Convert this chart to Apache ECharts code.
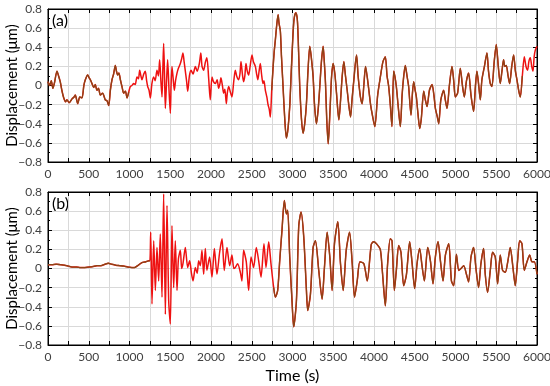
<!DOCTYPE html>
<html><head><meta charset="utf-8">
<script src="https://cdn.jsdelivr.net/npm/echarts@6/dist/echarts.min.js"></script>
<style>html,body{margin:0;padding:0;background:#fff}#c{width:550px;height:386px}</style>
</head><body><div id="c"></div>
<script>
// Panel (a)
var timesA = [0,20,40,60,80,110,130,150,170,190,215,233,260,295,320,335,365,390,417,440,458,487,505,520,540,560,580,600,620,642,670,703,725,745,765,785,805,826,840,855,870,888,910,928,950,970,990,1010,1030,1051,1070,1092,1110,1125,1140,1153,1175,1194,1210,1223,1240,1256,1275,1297,1315,1337,1355,1370,1385,1399,1410,1419,1430,1440,1455,1468,1485,1501,1510,1521,1535,1550,1565,1583,1600,1624,1640,1656,1670,1685,1700,1714,1735,1755,1780,1808,1830,1857,1875,1890,1910,1930,1950,1971,1991,2012,2030,2053,2075,2094,2110,2122,2140,2155,2170,2188,2200,2217,2235,2257,2280,2298,2315,2339,2355,2368,2385,2400,2415,2429,2445,2462,2480,2503,2520,2544,2560,2575,2590,2605,2620,2638,2650,2667,2685,2700,2715,2728,2745,2761,2775,2790,2805,2823,2835,2851,2865,2884,2905,2925,2945,2966,2985,3007,3020,3040,3055,3064,3075,3089,3110,3130,3150,3171,3190,3212,3230,3253,3270,3294,3315,3335,3355,3376,3390,3405,3420,3438,3450,3466,3480,3499,3520,3540,3555,3569,3590,3610,3630,3650,3671,3690,3712,3730,3753,3770,3786,3805,3827,3840,3855,3875,3896,3915,3937,3958,3978,4010,4045,4080,4110,4139,4160,4180,4200,4220,4241,4255,4274,4295,4323,4345,4365,4384,4405,4425,4454,4470,4487,4505,4520,4540,4561,4580,4610,4630,4651,4680,4712,4735,4753,4775,4794,4820,4855,4875,4896,4925,4957,4978,4998,5026,5059,5085,5108,5135,5161,5190,5222,5245,5263,5285,5304,5324,5355,5386,5405,5427,5447,5475,5500,5525,5549,5570,5590,5605,5623,5645,5664,5690,5713,5735,5754,5775,5795,5820,5844,5865,5885,5900,5918,5935,5951,5965,5979,6000];
var valuesA = [0.04,0.0,0.05,-0.03,0.03,0.15,0.1,0.04,-0.05,-0.12,-0.17,-0.15,-0.18,-0.14,-0.12,-0.10,-0.19,-0.12,-0.13,0.0,0.06,0.11,0.08,0.06,0.02,-0.02,0.01,-0.05,-0.03,-0.1,-0.08,-0.15,-0.16,-0.21,-0.05,0.06,0.12,0.21,0.15,0.11,0.13,0.06,-0.02,-0.08,-0.06,-0.13,-0.07,-0.01,0.0,0.02,0.01,0.09,0.07,0.16,0.1,0.06,0.12,0.15,0.05,-0.01,-0.05,-0.13,0.02,0.09,0.05,0.16,0.1,0.27,0.05,-0.12,0.2,0.44,0.1,-0.24,0.05,0.27,-0.05,-0.29,0.0,0.2,0.08,-0.05,0.05,0.13,0.18,0.23,0.28,0.34,0.25,0.15,0.05,-0.06,0.1,0.16,0.12,0.2,0.15,0.23,0.34,0.2,0.16,0.24,0.29,0.08,-0.15,0.09,0.04,0.02,0.06,-0.03,0.02,0.08,0.0,-0.08,-0.04,-0.19,-0.08,-0.01,-0.06,-0.12,0.05,0.16,0.1,0.06,0.12,0.25,0.12,0.04,0.1,0.23,0.15,0.11,0.2,0.32,0.25,0.2,0.12,0.06,0.15,0.23,0.12,0.02,0.05,-0.05,-0.12,-0.2,-0.25,-0.33,-0.05,0.18,0.35,0.48,0.62,0.74,0.65,0.57,0.3,-0.01,-0.35,-0.55,-0.45,-0.22,0.15,0.55,0.7,0.76,0.72,0.62,0.35,-0.01,-0.35,-0.5,-0.4,-0.19,0.15,0.41,0.3,0.09,-0.2,-0.4,-0.25,-0.01,0.25,0.41,0.25,0.02,-0.35,-0.61,-0.45,-0.15,0.1,0.23,0.12,-0.08,-0.25,-0.36,-0.15,0.1,0.25,0.1,-0.05,-0.2,-0.33,-0.15,0.06,0.22,0.32,0.1,-0.08,-0.15,-0.19,0.0,0.2,0.1,-0.05,-0.2,-0.3,-0.43,-0.1,0.1,0.25,0.3,0.1,-0.01,-0.2,-0.43,0.15,0.1,-0.01,-0.2,-0.43,-0.1,0.1,0.21,0.1,-0.01,-0.31,-0.1,0.04,-0.05,-0.12,-0.3,-0.45,-0.35,-0.06,-0.15,-0.22,-0.05,0.01,-0.1,-0.24,-0.32,-0.4,-0.15,-0.05,-0.15,-0.24,0.0,0.2,0.05,-0.12,-0.08,0.18,0.0,-0.12,0.05,0.13,-0.1,-0.27,0.0,0.15,0.0,-0.15,0.06,0.2,0.34,0.15,0.02,-0.01,0.25,0.43,0.2,0.02,0.15,0.27,0.2,0.21,0.1,0.02,0.2,0.32,0.15,0.06,-0.05,-0.12,0.1,0.3,0.2,0.16,0.25,0.29,0.2,0.15,0.3,0.37,0.41];
// Panel (b)
var timesB = [0,50,100,150,200,250,300,350,400,450,500,550,600,650,700,740,780,830,880,930,980,1030,1060,1100,1150,1200,1235,1250,1260,1276,1297,1317,1337,1358,1378,1399,1419,1440,1460,1481,1501,1521,1542,1562,1583,1600,1624,1640,1656,1685,1714,1738,1760,1779,1808,1830,1849,1869,1889,1910,1930,1950,1983,2012,2041,2073,2106,2135,2163,2196,2229,2257,2280,2298,2327,2360,2380,2400,2433,2462,2491,2523,2556,2585,2614,2650,2675,2708,2736,2769,2790,2818,2843,2871,2900,2925,2941,2966,2994,3015,3048,3077,3105,3138,3171,3187,3220,3253,3281,3322,3363,3392,3425,3458,3486,3515,3556,3589,3622,3659,3700,3733,3761,3794,3827,3876,3917,3966,3995,4030,4077,4100,4118,4139,4167,4200,4221,4250,4274,4303,4331,4364,4397,4438,4466,4499,4528,4560,4589,4618,4659,4692,4724,4753,4786,4815,4847,4876,4917,4950,4978,5011,5040,5068,5101,5134,5161,5190,5222,5251,5283,5312,5345,5365,5394,5427,5455,5488,5517,5549,5578,5611,5643,5672,5705,5733,5762,5787,5815,5844,5877,5910,5938,5967,6000];
var valuesB = [0.04,0.04,0.045,0.04,0.035,0.025,0.015,0.015,0.01,0.01,0.015,0.02,0.03,0.03,0.045,0.055,0.045,0.035,0.03,0.025,0.015,0.01,0.01,0.03,0.06,0.07,0.08,0.08,0.38,-0.37,0.29,-0.23,0.22,-0.13,0.36,-0.3,0.78,-0.48,0.66,-0.34,-0.58,0.45,-0.2,0.29,-0.23,0.1,0.19,0.0,0.05,0.22,0.01,0.08,-0.05,-0.13,0.01,-0.05,0.08,0.03,0.19,-0.06,0.21,-0.02,0.12,-0.09,0.21,-0.06,0.17,0.31,-0.02,0.22,0.03,0.14,0.0,0.01,0.05,-0.04,-0.13,0.19,0.07,-0.23,0.12,0.01,0.22,0.08,-0.09,0.26,0.01,0.28,0.05,-0.2,-0.3,-0.23,0.08,0.4,0.71,0.57,0.61,0.12,-0.34,-0.61,-0.34,0.45,0.59,0.33,-0.23,-0.44,-0.27,0.22,0.29,-0.02,-0.32,0.01,0.38,0.12,-0.23,0.26,0.49,0.05,-0.23,0.19,0.38,0.05,-0.3,-0.13,0.07,0.05,-0.13,0.25,0.28,0.26,0.2,0.0,-0.2,-0.39,0.05,0.31,0.29,-0.23,-0.02,0.24,0.17,-0.18,-0.07,0.28,0.07,-0.21,0.05,0.21,0.03,-0.13,0.22,0.08,-0.16,0.12,0.28,0.08,-0.13,0.14,0.26,-0.13,-0.18,0.15,-0.02,0.0,0.03,-0.06,-0.14,0.12,0.22,0.0,-0.2,0.05,0.21,-0.06,-0.25,-0.02,0.17,0.12,-0.16,0.14,-0.02,-0.04,0.08,0.22,0.01,-0.18,0.08,0.29,0.26,-0.02,0.07,0.14,0.07,0.07,-0.06];
var xTicks = [0,500,1000,1500,2000,2500,3000,3500,4000,4500,5000,5500,6000];
var panelLabels = ['(a)','(b)'];

var RED = '#ee1111', BROWN = '#8a4516';
function pairs(t, v) { return t.map(function (x, i) { return [x, v[i]]; }); }
function masked(t, v, keep) { return t.map(function (x, i) { return [x, keep(x) ? v[i] : null]; }); }
var dataA = pairs(timesA, valuesA), dataB = pairs(timesB, valuesB);
var brownA = masked(timesA, valuesA, function (x) { return x <= 1000 || (x >= 2740 && x <= 5840); });
var brownB = masked(timesB, valuesB, function (x) { return x <= 1250 || x >= 2760; });

var FONT = 'Lato';
var grids = [
  { left: 48, top: 9, width: 489, height: 153, show: true, borderColor: '#000', borderWidth: 1, containLabel: false, outerBoundsMode: 'none' },
  { left: 48, top: 192, width: 489, height: 153, show: true, borderColor: '#000', borderWidth: 1, containLabel: false, outerBoundsMode: 'none' }
];
function xAx(g, pos, labels) {
  return {
    type: 'value', gridIndex: g, position: pos, min: 0, max: 6000, interval: 250,
    axisLine: { show: true, onZero: false, lineStyle: { color: '#000', width: 1 } },
    axisTick: { show: true, inside: true, length: 4, lineStyle: { color: '#000' } },
    axisLabel: { show: labels, fontSize: 12, color: '#404040', fontFamily: FONT, margin: 6,
      formatter: function (v) { return xTicks.indexOf(v) >= 0 ? String(v) : ''; } },
    splitLine: { show: pos === 'bottom', lineStyle: { color: '#d9d9d9', width: 1 } },
    name: (g === 1 && pos === 'bottom') ? 'Time (s)' : '', nameLocation: 'middle', nameGap: 23,
    nameTextStyle: { fontSize: 16, color: '#000', fontFamily: FONT }
  };
}
function yAx(g, pos, labels) {
  return {
    type: 'value', gridIndex: g, position: pos, min: -0.8, max: 0.8, interval: 0.2,
    axisLine: { show: true, onZero: false, lineStyle: { color: '#000', width: 1 } },
    axisTick: { show: true, inside: true, length: 4, lineStyle: { color: '#000' } },
    minorTick: { show: true, splitNumber: 2, length: 2, lineStyle: { color: '#000' } },
    axisLabel: { show: labels, fontSize: 12, color: '#404040', fontFamily: FONT, margin: 6,
      formatter: function (v) { var r = Math.round(v * 10) / 10; if (r === 0) return '0'; return (r < 0 ? '\u2212' : '') + Math.abs(r).toFixed(1); } },
    splitLine: { show: pos === 'left', lineStyle: { color: '#d9d9d9', width: 1 } },
    name: pos === 'left' ? 'Displacement (\u03bcm)' : '', nameLocation: 'middle', nameGap: 28, nameMoveOverlap: false,
    nameTextStyle: { fontSize: 15, color: '#000', fontFamily: FONT }
  };
}
var option = {
  animation: false,
  backgroundColor: '#fff',
  grid: grids,
  xAxis: [xAx(0, 'bottom', true), xAx(1, 'bottom', true), xAx(0, 'top', false), xAx(1, 'top', false)],
  yAxis: [yAx(0, 'left', true), yAx(1, 'left', true), yAx(0, 'right', false), yAx(1, 'right', false)],
  graphic: [
    { type: 'text', left: 52, top: 13, style: { text: panelLabels[0], font: '16px ' + FONT, fill: '#000' } },
    { type: 'text', left: 52, top: 196, style: { text: panelLabels[1], font: '16px ' + FONT, fill: '#000' } }
  ],
  series: [
    { type: 'line', xAxisIndex: 0, yAxisIndex: 0, data: dataA, symbol: 'none', smooth: 0.25, lineStyle: { color: RED, width: 1.5 } },
    { type: 'line', xAxisIndex: 0, yAxisIndex: 0, data: brownA, symbol: 'none', smooth: 0.25, connectNulls: false, lineStyle: { color: BROWN, width: 1.3 } },
    { type: 'line', xAxisIndex: 1, yAxisIndex: 1, data: dataB, symbol: 'none', smooth: 0.25, lineStyle: { color: RED, width: 1.5 } },
    { type: 'line', xAxisIndex: 1, yAxisIndex: 1, data: brownB, symbol: 'none', smooth: 0.25, connectNulls: false, lineStyle: { color: BROWN, width: 1.3 } }
  ]
};
echarts.init(document.getElementById('c'), null, { renderer: 'canvas' }).setOption(option);
</script></body></html>
